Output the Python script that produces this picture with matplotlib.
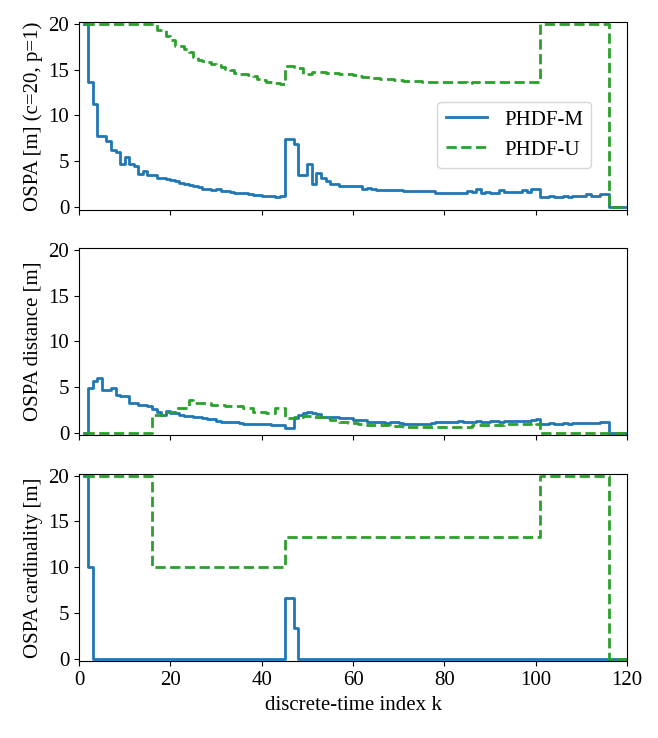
import numpy as np
import matplotlib
matplotlib.use("Agg")
import matplotlib.pyplot as plt

plt.rcParams["font.family"] = ["Liberation Serif", "DejaVu Serif"]
plt.rcParams["font.size"] = 15

# discrete-time index
k = np.arange(1, 121)

# combined OSPA (c=20, p=1)
ospa_m = [
    20, 13.7, 11.2, 7.7, 7.7, 7.2, 6.2, 6.0, 4.7, 5.5,
    4.7, 4.5, 3.6, 3.9, 3.45, 3.45, 3.1, 3.1, 3.0, 2.9,
    2.8, 2.6, 2.5, 2.4, 2.3, 2.2, 2.0, 2.0, 1.8, 1.9,
    1.7, 1.7, 1.6, 1.5, 1.5, 1.55, 1.4, 1.3, 1.3, 1.2,
    1.2, 1.15, 1.1, 1.15, 7.45, 7.45, 6.9, 3.45, 3.45, 4.7,
    2.55, 3.7, 3.1, 2.8, 2.55, 2.55, 2.3, 2.3, 2.3, 2.3,
    2.3, 2.0, 2.1, 2.0, 1.8, 1.8, 1.8, 1.8, 1.8, 1.8,
    1.7, 1.7, 1.7, 1.75, 1.7, 1.7, 1.7, 1.5, 1.5, 1.5,
    1.5, 1.5, 1.5, 1.5, 1.7, 1.6, 2.0, 1.55, 1.6, 1.55,
    1.55, 1.8, 1.6, 1.6, 1.6, 1.6, 1.85, 1.6, 1.9, 1.9,
    1.1, 1.1, 1.2, 1.1, 1.1, 1.15, 1.1, 1.2, 1.15, 1.2,
    1.4, 1.2, 1.2, 1.4, 1.35, 0, 0, 0, 0, 0,
]
ospa_u = [
    20, 20, 20, 20, 20, 20, 20, 20, 20, 20,
    20, 20, 20, 20, 20, 20, 19.3, 19.3, 18.7, 18.2,
    17.6, 17.6, 17.3, 16.9, 16.4, 16.1, 15.9, 15.8, 15.6, 15.5,
    15.3, 15.1, 15.0, 14.6, 14.5, 14.5, 14.4, 14.3, 14.0, 13.9,
    13.7, 13.6, 13.5, 13.45, 15.45, 15.4, 15.3, 15.2, 14.5, 14.5,
    14.7, 14.7, 14.7, 14.6, 14.6, 14.6, 14.5, 14.5, 14.5, 14.4,
    14.3, 14.2, 14.2, 14.1, 14.1, 14.0, 14.0, 14.0, 13.9, 13.9,
    13.8, 13.8, 13.8, 13.75, 13.7, 13.7, 13.65, 13.6, 13.6, 13.6,
    13.6, 13.6, 13.6, 13.6, 13.55, 13.6, 13.6, 13.6, 13.7, 13.7,
    13.7, 13.7, 13.7, 13.7, 13.7, 13.7, 13.7, 13.7, 13.7, 13.7,
    20, 20, 20, 20, 20, 20, 20, 20, 20, 20,
    20, 20, 20, 20, 20, 0, 0, 0, 0, 0,
]

# localisation component
loc_m = [
    0, 4.9, 5.6, 6.0, 4.7, 4.7, 4.9, 4.1, 4.0, 4.0,
    3.2, 3.2, 3.05, 3.05, 2.9, 2.6, 2.3, 1.95, 2.4, 2.1,
    2.1, 1.9, 1.85, 1.8, 1.7, 1.7, 1.6, 1.5, 1.45, 1.3,
    1.2, 1.2, 1.15, 1.15, 1.1, 1.0, 1.0, 1.0, 0.95, 0.95,
    0.9, 0.85, 0.85, 0.85, 0.55, 0.55, 1.6, 1.9, 2.1, 2.3,
    2.1, 2.0, 1.75, 1.75, 1.75, 1.7, 1.6, 1.6, 1.6, 1.4,
    1.4, 1.4, 1.2, 1.2, 1.2, 1.2, 1.1, 1.2, 1.2, 1.1,
    1.0, 1.0, 1.0, 1.0, 1.0, 1.0, 1.1, 1.2, 1.2, 1.2,
    1.2, 1.2, 1.3, 1.2, 1.2, 1.2, 1.3, 1.2, 1.2, 1.3,
    1.3, 1.2, 1.3, 1.3, 1.3, 1.3, 1.3, 1.3, 1.4, 1.45,
    1.0, 1.0, 1.05, 1.0, 1.0, 1.05, 1.0, 1.05, 1.05, 1.05,
    1.1, 1.05, 1.1, 1.2, 1.2, 0, 0, 0, 0, 0,
]
loc_u = [
    0, 0, 0, 0, 0, 0, 0, 0, 0, 0,
    0, 0, 0, 0, 0, 1.9, 1.9, 1.9, 2.3, 2.3,
    2.7, 2.7, 2.7, 3.6, 3.25, 3.25, 3.25, 3.25, 3.05, 3.05,
    3.05, 2.9, 2.9, 2.9, 2.9, 2.65, 2.65, 2.3, 2.3, 2.3,
    2.1, 2.1, 2.65, 2.65, 1.6, 1.6, 1.75, 1.75, 1.8, 1.8,
    1.75, 1.75, 1.7, 1.6, 1.4, 1.4, 1.2, 1.2, 1.05, 1.05,
    1.0, 1.0, 0.85, 0.85, 0.85, 0.85, 0.85, 0.7, 0.7, 0.7,
    0.66, 0.66, 0.66, 0.66, 0.66, 0.66, 0.66, 0.66, 0.66, 0.66,
    0.66, 0.66, 0.66, 0.66, 0.66, 0.8, 0.85, 0.85, 0.85, 0.85,
    0.85, 0.85, 0.95, 1.0, 1.0, 1.0, 1.0, 1.0, 1.05, 1.0,
    0, 0, 0, 0, 0, 0, 0, 0, 0, 0,
    0, 0, 0, 0, 0, 0, 0, 0, 0, 0,
]

# cardinality component
card_m = (
    [20, 10] + [0] * 42 + [6.67, 6.67, 3.33] + [0] * 73
)
card_u = (
    [20] * 15 + [10] * 29 + [13.33] * 56 + [20] * 15 + [0] * 5
)

labels = ["PHDF-M", "PHDF-U"]
ylabels = ["OSPA [m] (c=20, p=1)", "OSPA distance [m]", "OSPA cardinality [m]"]

fig, axes = plt.subplots(3, 1, figsize=(6.58, 7.38), dpi=100, sharex=True)
fig.subplots_adjust(left=0.12, right=0.953, top=0.970, bottom=0.104, hspace=0.205)

panels = [(ospa_m, ospa_u), (loc_m, loc_u), (card_m, card_u)]
for ax, (m, u), ylab in zip(axes, panels, ylabels):
    ax.step(k, m, where="post", color="#1f77b4", lw=2, label=labels[0])
    ax.step(k, u, where="post", color="#2ca02c", lw=2, ls="--", label=labels[1])
    ax.set_ylabel(ylab)
    ax.set_ylim(-0.3, 20.2)
    ax.set_yticks([0, 5, 10, 15, 20])
    ax.set_xlim(0, 120)

axes[0].legend(loc="upper right", bbox_to_anchor=(0.935, 0.575),
               borderaxespad=0)
axes[2].set_xticks(np.arange(0, 121, 20))
axes[2].set_xlabel("discrete-time index k")

fig.savefig("out.png", dpi=100)
